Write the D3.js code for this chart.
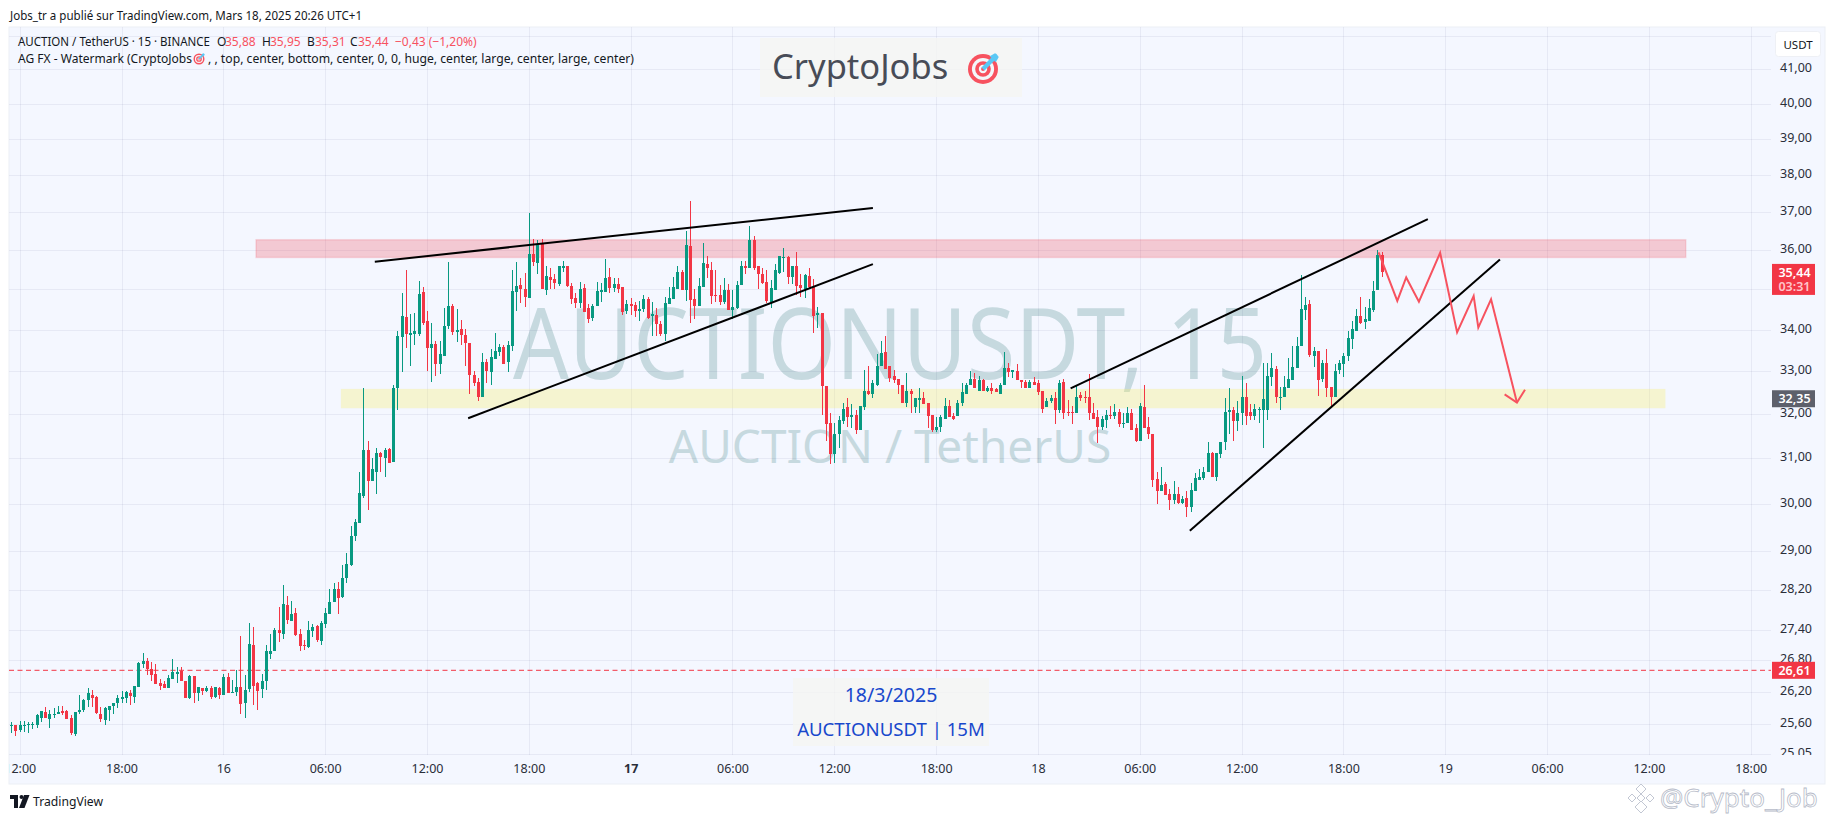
<!DOCTYPE html>
<html lang="en">
<head>
    <meta charset="UTF-8">
    <title>AUCTION / TetherUS 15</title>
    <script src="https://cdnjs.cloudflare.com/ajax/libs/d3/7.8.5/d3.min.js"></script>
    <style>
        html, body { margin: 0; padding: 0; background: #fff; overflow: hidden; }
        svg { display: block; }
        text { font-family: 'Noto Sans', sans-serif; }
        .axis text { font-size: 12.5px; fill: #2a2e39; }
        .axis path, .axis line { display: none; }
        .legend { font-size: 12px; fill: #131722; }
        .up { fill: #089981; }
        .down { fill: #f23645; }
    </style>
</head>
<body>
    <svg id="chart" width="1835" height="819"></svg>

    <script>
        // prices, one entry per 15 minute bar, first bar is 15 March 11:30
        const opens = [
            25.56,25.59,25.49,25.57,25.58,25.59,25.59,25.72,25.83,25.70,
            25.76,25.78,25.85,25.85,25.72,25.42,25.83,25.87,26.04,26.15,
            26.11,25.79,25.68,25.87,25.93,26.00,26.06,26.08,26.17,26.11,
            26.30,26.73,26.79,26.63,26.54,26.36,26.34,26.27,26.44,26.54,
            26.60,26.40,26.09,26.50,26.17,26.28,26.21,26.28,26.11,26.28,
            26.15,26.48,26.19,26.19,26.30,26.00,26.25,27.10,26.36,26.25,
            26.40,26.93,26.99,27.39,27.31,27.89,27.57,27.73,27.31,27.10,
            27.06,27.37,27.47,27.18,27.51,27.71,27.95,28.21,28.05,28.43,
            28.70,29.30,29.58,30.16,31.19,30.49,30.70,31.12,31.01,31.21,
            30.90,32.59,33.82,34.32,33.87,33.89,33.89,34.93,34.21,33.55,
            33.65,33.16,33.35,34.09,34.59,33.94,34.01,33.87,33.67,32.91,
            32.75,32.38,33.21,32.98,33.30,33.45,33.58,33.21,33.60,34.93,
            35.11,35.01,34.78,35.90,35.68,36.15,34.98,35.31,35.26,35.13,
            35.55,35.60,35.08,34.78,34.66,35.03,34.54,34.29,34.59,34.94,
            34.93,35.31,35.03,35.13,35.06,34.46,34.64,34.61,34.46,34.51,
            34.76,34.34,34.36,34.14,33.89,34.64,34.76,35.01,35.45,34.98,
            36.11,34.76,34.59,35.06,35.65,35.50,34.86,34.86,34.69,34.98,
            34.49,34.54,35.11,35.58,35.53,36.27,35.58,35.38,35.18,34.69,
            34.98,35.40,35.80,35.83,35.31,35.60,35.11,35.01,35.33,35.06,
            34.36,34.41,32.64,31.78,31.10,31.53,31.83,32.15,31.92,31.98,
            31.64,32.17,32.54,32.45,32.66,33.11,33.45,33.11,32.89,32.82,
            32.68,32.26,32.52,32.17,32.33,32.36,32.24,31.98,31.62,31.69,
            31.89,32.19,31.94,31.96,32.24,32.47,32.66,32.82,32.54,32.78,
            32.52,32.61,32.57,32.47,32.66,33.08,32.98,33.01,32.80,32.75,
            32.61,32.75,32.71,32.52,32.17,32.29,32.36,32.10,32.75,32.05,
            32.05,32.01,32.43,32.38,32.38,32.01,31.92,31.71,31.87,31.98,
            31.96,32.05,31.78,31.80,32.03,31.67,31.39,32.17,31.69,31.55,
            30.53,30.27,30.42,30.20,30.07,30.20,30.01,30.12,29.92,30.27,
            30.51,30.55,30.68,31.12,30.57,31.10,31.35,32.05,32.08,31.83,
            32.01,32.38,32.05,31.96,32.10,32.10,32.10,32.86,33.05,32.38,
            32.38,32.61,32.79,33.07,33.59,34.48,34.63,33.37,33.47,32.81,
            33.20,32.63,32.38,33.02,33.17,33.35,33.76,33.96,34.33,34.18,
            34.20,34.48,34.98,35.88
        ];
        const highs = [
            25.64,25.59,25.66,25.66,25.64,25.64,25.79,25.85,25.91,25.87,
            25.89,25.93,25.93,25.87,25.76,25.83,26.15,26.06,26.27,26.23,
            26.13,25.91,25.91,25.94,26.00,26.15,26.21,26.21,26.23,26.32,
            26.77,26.95,26.85,26.77,26.73,26.44,26.40,26.52,26.83,26.68,
            26.68,26.40,26.52,26.50,26.30,26.28,26.32,26.32,26.30,26.30,
            26.54,26.56,26.42,26.62,27.27,26.52,27.53,27.45,26.38,26.54,
            27.10,27.31,27.43,27.85,28.29,28.07,27.97,27.83,27.41,27.20,
            27.57,27.51,27.49,27.57,27.83,28.21,28.33,28.35,28.70,28.95,
            29.52,29.67,30.70,32.59,31.39,31.01,31.23,31.14,31.23,31.23,
            32.68,33.97,34.91,35.50,34.39,34.41,35.21,35.06,34.46,34.16,
            33.73,33.71,34.53,35.70,34.64,34.51,34.24,34.02,33.67,33.01,
            32.84,33.43,33.28,33.52,33.92,33.66,33.62,33.72,35.48,35.70,
            35.28,35.40,36.98,36.29,36.27,36.29,35.60,35.53,35.38,35.60,
            35.73,35.60,35.16,34.91,35.18,35.13,34.64,34.64,35.18,35.16,
            35.77,35.53,35.28,35.28,35.06,34.74,34.78,34.69,34.71,34.86,
            34.81,34.69,34.54,34.21,34.81,35.06,35.31,35.60,35.48,36.50,
            37.30,35.01,35.28,36.19,35.85,35.70,35.50,35.11,35.28,35.13,
            34.98,35.21,35.73,35.73,36.64,36.37,35.58,35.53,35.48,35.23,
            35.63,35.85,36.05,35.85,35.60,35.95,35.38,35.38,35.53,35.26,
            34.56,34.41,32.64,32.03,31.80,31.94,32.26,32.36,32.22,32.08,
            32.19,33.03,33.13,32.78,33.40,33.72,33.84,33.11,33.03,32.82,
            32.68,32.96,32.57,32.36,32.61,32.50,32.24,31.98,31.92,31.98,
            32.36,32.31,32.01,32.33,32.73,32.73,33.01,32.96,32.89,32.82,
            32.64,32.71,32.59,32.73,33.45,33.20,33.03,33.16,32.80,32.78,
            32.78,32.87,32.78,32.52,32.36,32.43,32.50,32.78,32.82,32.31,
            32.19,32.64,32.50,32.54,32.94,32.24,32.08,31.96,32.08,32.19,
            32.22,32.12,32.03,32.15,32.12,31.76,32.26,32.66,31.92,31.55,
            30.68,30.79,30.46,30.31,30.49,30.36,30.16,30.27,30.44,30.66,
            30.75,30.79,31.35,31.14,31.12,31.37,32.37,32.61,32.17,32.29,
            32.89,32.71,32.22,32.22,32.15,33.20,33.20,33.44,33.12,32.63,
            32.88,33.32,33.59,33.81,35.36,34.81,34.73,33.57,33.47,33.27,
            33.52,32.63,33.17,33.27,33.44,33.96,34.21,34.50,34.81,34.55,
            34.76,35.21,36.00,35.95
        ];
        const lows = [
            25.44,25.38,25.46,25.46,25.44,25.51,25.53,25.63,25.72,25.53,
            25.72,25.78,25.76,25.70,25.40,25.38,25.78,25.83,25.91,25.91,
            25.78,25.63,25.59,25.66,25.79,25.89,26.00,26.00,25.96,26.00,
            26.30,26.66,26.52,26.40,26.34,26.23,26.27,26.27,26.44,26.36,
            26.40,26.09,26.06,26.00,26.02,26.15,26.19,26.06,26.08,26.06,
            26.15,26.17,26.19,26.13,25.78,25.72,26.19,25.96,25.87,26.08,
            26.23,26.83,26.99,27.16,27.21,27.51,27.57,27.27,26.99,27.00,
            27.04,27.25,27.16,27.10,27.43,27.71,27.95,27.71,28.03,28.33,
            28.68,29.20,29.58,30.12,29.86,30.49,30.20,30.70,30.59,30.88,
            30.90,32.08,32.98,33.55,33.11,33.62,33.84,34.12,33.01,32.75,
            32.89,32.94,33.35,34.02,33.87,33.70,33.62,33.11,32.45,32.64,
            32.29,32.38,32.71,32.66,33.30,33.35,33.16,32.98,33.48,34.46,
            34.66,34.56,34.78,35.58,35.38,35.01,34.86,35.01,35.01,35.08,
            35.45,35.06,34.64,34.54,34.54,34.44,34.17,34.21,34.59,34.69,
            34.93,34.91,34.93,34.91,34.36,34.39,34.36,34.31,34.21,34.44,
            34.26,33.84,33.84,33.84,33.72,34.64,34.76,35.01,34.98,34.71,
            34.17,34.26,34.59,35.06,35.28,34.64,34.69,34.61,34.64,34.49,
            34.26,34.51,35.11,35.38,35.53,35.50,35.01,35.13,34.66,34.53,
            34.98,35.38,35.45,35.13,35.13,34.86,34.81,34.78,35.01,33.92,
            34.04,31.98,31.39,30.87,30.89,31.23,31.76,31.69,31.67,31.55,
            31.64,32.08,32.43,32.36,32.64,33.11,33.06,32.75,32.71,32.47,
            32.24,32.15,32.01,32.03,32.03,32.22,31.67,31.58,31.58,31.58,
            31.89,31.92,31.85,31.96,32.19,32.47,32.66,32.61,32.54,32.52,
            32.50,32.47,32.50,32.45,32.66,32.87,32.84,32.78,32.61,32.61,
            32.59,32.66,32.43,32.01,32.17,32.24,31.76,32.03,31.89,31.94,
            31.76,32.01,32.29,32.26,31.87,31.89,31.33,31.62,31.67,31.89,
            31.89,31.69,31.67,31.80,31.62,31.37,31.39,31.67,31.42,30.36,
            29.99,30.27,30.18,29.86,29.99,29.99,29.99,29.71,29.82,30.27,
            30.51,30.51,30.68,30.57,30.49,31.01,31.17,31.55,31.39,31.60,
            31.74,31.74,31.87,31.87,31.78,31.23,31.87,32.65,32.26,32.10,
            32.38,32.61,32.79,33.07,33.59,34.23,33.34,33.10,32.42,32.75,
            32.40,32.19,32.38,32.93,32.86,33.25,33.52,33.96,34.13,34.01,
            34.20,34.43,34.98,35.31
        ];
        const closes = [
            25.59,25.48,25.59,25.59,25.61,25.61,25.76,25.85,25.72,25.78,
            25.79,25.83,25.81,25.70,25.44,25.83,25.87,26.04,26.17,26.08,
            25.81,25.70,25.89,25.94,26.00,26.08,26.11,26.19,26.13,26.32,
            26.75,26.79,26.63,26.52,26.34,26.32,26.27,26.46,26.58,26.58,
            26.40,26.09,26.50,26.17,26.30,26.21,26.28,26.11,26.30,26.15,
            26.48,26.17,26.20,26.30,25.98,26.23,27.12,26.32,26.21,26.40,
            26.99,26.99,27.39,27.33,27.91,27.59,27.71,27.29,27.08,27.08,
            27.39,27.45,27.19,27.53,27.73,27.95,28.21,28.03,28.43,28.72,
            29.30,29.60,30.22,31.19,30.49,30.75,31.12,31.03,31.19,30.88,
            32.59,33.84,34.34,33.89,33.91,33.97,34.88,34.16,33.55,33.65,
            33.16,33.40,34.09,34.59,33.94,33.99,33.87,33.67,32.91,32.73,
            32.38,33.21,33.01,33.33,33.48,33.57,33.18,33.62,34.96,35.08,
            35.01,34.81,35.90,35.70,36.12,35.01,35.33,35.23,35.16,35.58,
            35.60,35.08,34.76,34.66,35.01,34.44,34.26,34.59,34.96,34.97,
            35.28,35.03,35.13,35.01,34.44,34.64,34.59,34.46,34.51,34.76,
            34.29,34.39,34.14,33.89,34.66,34.78,35.06,35.43,34.98,36.13,
            34.74,34.59,35.08,35.68,35.53,34.83,34.83,34.69,34.98,34.49,
            34.56,35.11,35.58,35.55,36.27,35.53,35.38,35.16,34.71,35.03,
            35.48,35.85,35.83,35.31,35.60,35.08,35.03,35.36,35.06,34.34,
            34.41,32.64,31.76,31.10,31.55,31.85,32.12,31.92,31.98,31.64,
            32.19,32.54,32.47,32.71,33.11,33.43,33.06,32.84,32.80,32.66,
            32.26,32.52,32.47,32.36,32.36,32.22,31.96,31.64,31.71,31.92,
            32.19,31.92,31.89,32.26,32.50,32.68,32.82,32.61,32.78,32.52,
            32.59,32.54,32.50,32.68,33.08,32.98,33.02,32.78,32.75,32.61,
            32.75,32.66,32.50,32.12,32.29,32.36,32.10,32.73,32.03,32.03,
            32.03,32.40,32.36,32.36,32.01,31.89,31.71,31.89,31.98,31.96,
            32.05,31.76,31.80,32.03,31.64,31.39,32.19,31.67,31.55,30.51,
            30.27,30.40,30.18,30.07,30.20,30.01,30.09,29.92,30.29,30.55,
            30.59,30.68,31.12,30.57,31.12,31.37,32.05,32.08,31.83,32.03,
            32.38,31.96,31.96,32.12,32.12,32.35,32.88,33.07,32.38,32.40,
            32.63,32.82,33.10,33.61,34.50,34.61,33.39,33.49,32.79,33.20,
            32.61,32.40,33.00,33.20,33.35,33.79,34.01,34.33,34.16,34.26,
            34.53,34.96,35.87,35.44
        ];

        const gridPrices = [42, 41, 40, 39, 38, 37, 36, 35, 34, 33, 32, 31, 30, 29, 28.2, 27.4, 26.8, 26.2, 25.6, 25.05];
        const priceTicks = gridPrices.slice(1); // the 42,00 label sits behind the USDT button
        const timeLabels = ['12:00', '18:00', '16', '06:00', '12:00', '18:00', '17', '06:00', '12:00', '18:00',
            '18', '06:00', '12:00', '18:00', '19', '06:00', '12:00', '18:00'];

        // drawings, x given in bars from the first candle, y in price
        const trendLines = [
            { bars: [85.7, 203.1], prices: [35.70, 37.11] },
            { bars: [107.7, 203.1], prices: [31.90, 35.64] },
            { bars: [249.7, 333.9], prices: [32.59, 36.81] },
            { bars: [277.8, 350.9], prices: [29.42, 35.76] }
        ];
        const pathBars = [322.3, 326.7, 328.8, 331.8, 336.8, 340.8, 344.7, 345.8, 348.8, 354.9];
        const pathPrices = [35.94, 34.71, 35.30, 34.69, 35.93, 33.93, 34.83, 34.05, 34.75, 32.26];
        const arrowBars = [352.0, 354.9, 356.8];
        const arrowPrices = [32.45, 32.26, 32.56];
        const redZone = { bars: [57.7, 394.7], prices: [36.27, 35.81] };
        const yellowZone = { bars: [77.7, 389.9], prices: [32.58, 32.13] };
        const lastClose = 35.44, pivotPrice = 32.35, dashedPrice = 26.61;

        const comma = d => d.toFixed(2).replace('.', ',');
        const green = '#089981', red = '#f23645', gridColor = 'rgba(40,50,110,0.065)';

        const paneLeft = 9, paneRight = 1771, paneBottom = 755;
        const barMs = 15 * 60 * 1000;
        const firstBar = Date.UTC(2025, 2, 15, 11, 30);
        const barTime = i => new Date(firstBar + i * barMs);

        const x = d3.scaleUtc()
            .domain([new Date(Date.UTC(2025, 2, 15, 12)), new Date(Date.UTC(2025, 2, 19, 18))])
            .range([19.7, 1750.7]);
        const y = d3.scaleLog()
            .domain([25.05, 41])
            .range([754.3, 69.3]);
        const xBar = i => x(barTime(i));

        const svg = d3.select('#chart');

        const defs = svg.append('defs');
        defs.append('clipPath').attr('id', 'time-clip')
            .append('rect').attr('x', paneLeft).attr('y', 755).attr('width', 1762).attr('height', 30);
        defs.append('clipPath').attr('id', 'price-clip')
            .append('rect').attr('x', paneRight).attr('y', 27).attr('width', 54).attr('height', 728);

        // page header and background
        svg.append('text').attr('x', 10).attr('y', 19.5)
            .attr('textLength', 352).attr('lengthAdjust', 'spacingAndGlyphs')
            .style('font-size', '12.5px').attr('fill', '#131722')
            .text('Jobs_tr a publié sur TradingView.com, Mars 18, 2025 20:26 UTC+1');

        svg.append('rect').attr('x', paneLeft).attr('y', 27)
            .attr('width', 1816).attr('height', 757).attr('fill', '#f4f7ff')
            .attr('stroke', '#eceff5');

        // symbol watermark behind the grid and candles
        svg.append('text').attr('x', 513).attr('y', 379)
            .attr('textLength', 754).attr('lengthAdjust', 'spacingAndGlyphs')
            .style('font-size', '99px').attr('fill', '#c6d9df')
            .text('AUCTIONUSDT, 15');
        svg.append('text').attr('x', 890).attr('y', 463).attr('text-anchor', 'middle')
            .style('font-size', '46px').attr('fill', '#c6d9df')
            .text('AUCTION / TetherUS');

        // grid
        const timeTicks = timeLabels.map((d, i) => new Date(Date.UTC(2025, 2, 15, 12) + i * 6 * 3600 * 1000));
        svg.append('g').selectAll('line').data(gridPrices).join('line')
            .attr('x1', paneLeft).attr('x2', paneRight)
            .attr('y1', d => Math.round(y(d)) + 0.5).attr('y2', d => Math.round(y(d)) + 0.5)
            .attr('stroke', gridColor);
        svg.append('g').selectAll('line').data(timeTicks).join('line')
            .attr('x1', d => Math.round(x(d)) + 0.5).attr('x2', d => Math.round(x(d)) + 0.5)
            .attr('y1', 27).attr('y2', paneBottom)
            .attr('stroke', gridColor);

        // zones
        [redZone, yellowZone].forEach((zone, i) => {
            svg.append('rect')
                .attr('x', xBar(zone.bars[0])).attr('y', y(zone.prices[0]))
                .attr('width', xBar(zone.bars[1]) - xBar(zone.bars[0]))
                .attr('height', y(zone.prices[1]) - y(zone.prices[0]))
                .attr('fill', i === 0 ? 'rgba(242,54,69,0.24)' : 'rgba(250,240,100,0.3)')
                .attr('stroke', i === 0 ? 'rgba(242,54,69,0.15)' : 'none')
                .attr('stroke-width', 1.5);
        });

        // dashed level
        svg.append('line')
            .attr('x1', paneLeft).attr('x2', paneRight)
            .attr('y1', y(dashedPrice)).attr('y2', y(dashedPrice))
            .attr('stroke', red).attr('stroke-width', 1).attr('stroke-dasharray', '5,3.5');

        // candles
        const bars = d3.range(opens.length);
        const candles = svg.append('g').attr('shape-rendering', 'crispEdges');
        candles.selectAll('.wick').data(bars).join('rect')
            .attr('class', i => 'wick ' + (closes[i] >= opens[i] ? 'up' : 'down'))
            .attr('x', i => Math.round(xBar(i)))
            .attr('y', i => y(highs[i]))
            .attr('width', 1)
            .attr('height', i => y(lows[i]) - y(highs[i]));
        candles.selectAll('.body').data(bars).join('rect')
            .attr('class', i => 'body ' + (closes[i] >= opens[i] ? 'up' : 'down'))
            .attr('x', i => Math.round(xBar(i)) - 1)
            .attr('y', i => y(Math.max(opens[i], closes[i])))
            .attr('width', 3)
            .attr('height', i => Math.max(1, Math.abs(y(opens[i]) - y(closes[i]))));

        // trend lines
        svg.append('g').selectAll('line').data(trendLines).join('line')
            .attr('x1', d => xBar(d.bars[0])).attr('y1', d => y(d.prices[0]))
            .attr('x2', d => xBar(d.bars[1])).attr('y2', d => y(d.prices[1]))
            .attr('stroke', '#000').attr('stroke-width', 2);

        // projected path with its arrow head
        const pathLine = d3.line().x(d => xBar(d[0])).y(d => y(d[1]));
        svg.append('path')
            .attr('d', pathLine(d3.zip(pathBars, pathPrices)))
            .attr('fill', 'none').attr('stroke', '#f7525f').attr('stroke-width', 2);
        svg.append('path')
            .attr('d', pathLine(d3.zip(arrowBars, arrowPrices)))
            .attr('fill', 'none').attr('stroke', '#f7525f').attr('stroke-width', 2);

        // axes
        const timeAxis = svg.append('g').attr('class', 'axis')
            .attr('clip-path', 'url(#time-clip)')
            .append('g')
            .attr('transform', 'translate(0,755)')
            .call(d3.axisBottom(x).tickValues(timeTicks).tickSize(0).tickPadding(9)
                .tickFormat((d, i) => timeLabels[i]));
        // only the 17 is set bold in the picture
        timeAxis.selectAll('text')
            .style('font-weight', (d, i) => timeLabels[i] === '17' ? 700 : 400);

        svg.append('g').attr('class', 'axis')
            .attr('clip-path', 'url(#price-clip)')
            .append('g')
            .attr('transform', 'translate(1771,-1.5)')
            .call(d3.axisRight(y).tickValues(priceTicks).tickSize(0).tickPadding(9)
                .tickFormat(comma));

        // currency button
        svg.append('rect').attr('x', 1775.5).attr('y', 31.5).attr('width', 45).attr('height', 25).attr('rx', 3)
            .attr('fill', '#fff').attr('stroke', '#eef0f5');
        svg.append('text').attr('x', 1798).attr('y', 48.5).attr('text-anchor', 'middle')
            .style('font-size', '11.5px').attr('fill', '#131722').text('USDT');

        // price tags
        const tag = (price, h, fill) => {
            svg.append('rect').attr('x', 1772).attr('y', y(price) - h / 2)
                .attr('width', 43).attr('height', h).attr('fill', fill);
        };
        const tagText = (label, py, fill) => {
            svg.append('text').attr('x', 1794.5).attr('y', py).attr('text-anchor', 'middle')
                .style('font-size', '12.5px').style('font-weight', 600).attr('fill', fill).text(label);
        };
        svg.append('rect').attr('x', 1772).attr('y', y(lastClose) - 8)
            .attr('width', 43).attr('height', 31).attr('fill', red);
        tagText(comma(lastClose), y(lastClose) + 5, '#fff');
        tagText('03:31', y(lastClose) + 19, '#ffc4ca');
        tag(pivotPrice, 17, '#5d606b');
        tagText(comma(pivotPrice), y(pivotPrice) + 4.5, '#fff');
        tag(dashedPrice, 17, red);
        tagText(comma(dashedPrice), y(dashedPrice) + 4.5, '#fff');

        // little target symbol used in the watermark title and the legend
        const drawTarget = (cx, cy, r) => {
            const g = svg.append('g');
            [[1, '#f7525f'], [0.74, '#f4f7fa'], [0.52, '#f7525f'], [0.28, '#f4f7fa'], [0.13, '#f7525f']].forEach(d => {
                g.append('circle').attr('cx', cx).attr('cy', cy).attr('r', r * d[0]).attr('fill', d[1]);
            });
            g.append('line').attr('x1', cx).attr('y1', cy)
                .attr('x2', cx + r * 0.75).attr('y2', cy - r * 0.75)
                .attr('stroke', '#5ac8f5').attr('stroke-width', r * 0.3);
            g.append('path')
                .attr('d', `M${cx + r * 0.45},${cy - r * 0.85} L${cx + r * 0.8},${cy - r * 1.05} L${cx + r * 0.9},${cy - r * 1.0} L${cx + r * 1.05},${cy - r * 0.8} L${cx + r * 0.85},${cy - r * 0.45} Z`)
                .attr('fill', '#5ac8f5');
        };

        // title box, the grid shows a little through it
        svg.append('rect').attr('x', 760).attr('y', 38).attr('width', 262).attr('height', 59)
            .attr('fill', 'rgba(246,246,242,0.75)');
        svg.append('text').attr('x', 772).attr('y', 78.5)
            .style('font-size', '34.5px').attr('fill', '#484c57').text('CryptoJobs');
        drawTarget(983, 69, 15);

        // date box
        svg.append('rect').attr('x', 793).attr('y', 678).attr('width', 196).attr('height', 68)
            .attr('fill', 'rgba(246,246,242,0.75)');
        svg.append('text').attr('x', 891).attr('y', 702).attr('text-anchor', 'middle')
            .style('font-size', '19.5px').attr('fill', '#1848cc').text('18/3/2025');
        svg.append('text').attr('x', 891).attr('y', 736).attr('text-anchor', 'middle')
            .style('font-size', '18.6px').attr('fill', '#1848cc').text('AUCTIONUSDT | 15M');

        // legend
        svg.append('text').attr('class', 'legend').attr('x', 18).attr('y', 46)
            .attr('textLength', 192).attr('lengthAdjust', 'spacingAndGlyphs')
            .text('AUCTION / TetherUS · 15 · BINANCE');
        const legend1 = svg.append('text').attr('class', 'legend').attr('y', 46);
        [['O', 217, comma(opens[323]), 225],
         ['H', 262, comma(highs[323]), 270],
         ['B', 307, comma(lows[323]), 315],
         ['C', 350, comma(closes[323]), 358]].forEach(d => {
            legend1.append('tspan').attr('x', d[1]).text(d[0]);
            legend1.append('tspan').attr('x', d[3]).style('fill', '#f7525f').text(d[2]);
        });
        legend1.append('tspan').attr('x', 395).style('fill', '#f7525f').text('−0,43 (−1,20%)');

        svg.append('text').attr('class', 'legend').attr('x', 18).attr('y', 63)
            .attr('textLength', 174).attr('lengthAdjust', 'spacingAndGlyphs')
            .text('AG FX - Watermark (CryptoJobs');
        drawTarget(199, 59, 5.5);
        svg.append('text').attr('class', 'legend').attr('x', 208).attr('y', 63)
            .attr('textLength', 426).attr('lengthAdjust', 'spacingAndGlyphs')
            .text(', , top, center, bottom, center, 0, 0, huge, center, large, center, large, center)');

        // TradingView mark
        const logo = svg.append('g').attr('fill', '#131722');
        logo.append('path').attr('d', 'M10,795 h8 v13 h-4 v-9 h-4 Z');
        logo.append('circle').attr('cx', 21.5).attr('cy', 797).attr('r', 2);
        logo.append('path').attr('d', 'M24,795 h5.5 l-5,13 h-5.5 Z');
        svg.append('text').attr('x', 33).attr('y', 806)
            .attr('textLength', 70).attr('lengthAdjust', 'spacingAndGlyphs')
            .style('font-size', '13px').attr('fill', '#131722').text('TradingView');

        // reposter mark at the bottom right
        const diamond = (cx, cy, r) => `M${cx},${cy - r} L${cx + r},${cy} L${cx},${cy + r} L${cx - r},${cy} Z`;
        const mark = svg.append('g').attr('fill', '#fff').attr('stroke', '#c2c7d3').attr('stroke-width', 1);
        [[1641, 789, 5], [1632, 798, 4], [1650, 798, 4], [1641, 798, 4], [1641, 807, 6]].forEach(d => {
            mark.append('path').attr('d', diamond(d[0], d[1], d[2]));
        });
        svg.append('text').attr('x', 1660).attr('y', 807)
            .style('font-size', '26px').attr('fill', '#fff').attr('stroke', '#b6bbc9').attr('stroke-width', 0.8)
            .text('@Crypto_Job');
    </script>
</body>
</html>
